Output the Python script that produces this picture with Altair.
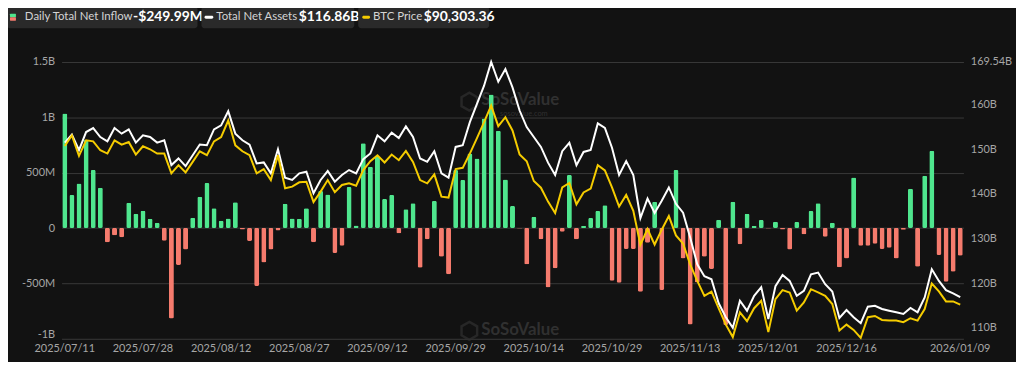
import altair as alt
import pandas as pd

# ---------------- data ----------------
holidays = {"2025-09-01", "2025-11-27", "2025-12-25", "2026-01-01"}
dates = [d.strftime("%Y/%m/%d") for d in pd.bdate_range("2025-07-11", "2026-01-09")
         if d.strftime("%Y-%m-%d") not in holidays]

tick_dates = ["2025/07/11", "2025/07/28", "2025/08/12", "2025/08/27", "2025/09/12",
              "2025/09/29", "2025/10/14", "2025/10/29", "2025/11/13", "2025/12/01",
              "2025/12/16", "2026/01/09"]

# Daily total net inflow (US$ millions)
inflow_m = [1035, 298, 403, 795, 524, 364, -129, -66, -84, 229,
            129, 157, 84, 48, -114, -816, -334, -193, 93, 283,
            406, 178, 66, 87, 232, -12, -117, -524, -310, -193,
            -21, 220, 87, 84, 178, -129, 334, 304, -226, -160,
            370, 24, 765, 554, 644, 262, 298, -48, 169, 223,
            -358, -102, 244, -259, -418, 524, 433, 674, 629, 990,
            1207, 879, 439, 199, -5, -328, 102, -102, -536, -364,
            -33, 479, -102, 21, 90, 154, 205, -476, -494, -190,
            -190, -575, -132, 238, -560, 1, 524, -274, -870, -492,
            -259, -370, 75, -876, 238, -147, 129, 21, 72, -4,
            57, -12, -193, 54, -57, 153, 223, -78, 48, -355,
            -274, 457, -160, -160, -141, -190, -178, -274, -15, 355,
            -349, 473, 698, -244, -485, -394, -249.99]

# Total net assets (US$ billions)
assets_b = [151.49, 153.27, 149.78, 153.85, 154.74, 152.74, 151.78, 154.74, 153.49, 154.45,
            151.49, 153.12, 152.74, 151.49, 152.0, 146.45, 147.94, 146.23, 148.67, 151.05,
            150.89, 154.45, 155.34, 158.52, 153.49, 152.0, 151.05, 146.83, 147.05, 144.6,
            150.0, 143.63, 143.12, 144.6, 144.96, 140.16, 143.12, 145.12, 142.74, 144.23,
            145.34, 144.6, 147.78, 149.05, 153.12, 151.78, 153.72, 152.52, 155.12, 152.74,
            147.94, 147.18, 149.56, 144.6, 143.63, 150.52, 150.89, 156.07, 160.16, 164.23,
            169.54, 165.12, 167.94, 163.85, 158.67, 154.96, 152.74, 150.52, 147.0, 144.23,
            149.56, 151.45, 146.45, 149.4, 149.85, 155.78, 154.78, 150.34, 144.23, 147.34,
            144.23, 134.6, 138.94, 135.72, 138.45, 141.45, 137.78, 135.78, 130.23, 124.23,
            121.56, 120.89, 115.56, 112.45, 110.0, 116.07, 113.85, 117.18, 119.12, 112.0,
            119.34, 121.85, 120.52, 117.18, 118.29, 122.0, 122.38, 119.78, 118.16, 112.23,
            114.0, 112.38, 111.05, 114.74, 114.96, 114.23, 113.85, 113.49, 113.12, 114.45,
            113.49, 116.83, 123.12, 120.52, 118.45, 117.72, 116.86]

# BTC price (US$ thousands)
btc_k = [117.72, 119.56, 116.01, 118.70, 118.53, 116.99, 116.42, 118.70, 117.96, 118.41,
         116.25, 117.67, 117.16, 116.42, 116.42, 112.99, 114.42, 113.16, 114.98, 116.81,
         116.13, 118.53, 119.27, 122.13, 117.84, 116.81, 116.13, 112.99, 113.73, 111.84,
         116.13, 110.42, 110.70, 111.45, 111.55, 108.02, 109.84, 111.84, 109.74, 110.99,
         111.28, 110.87, 113.56, 115.10, 116.13, 114.88, 116.25, 115.27, 116.87, 114.98,
         111.84, 111.28, 112.82, 108.98, 108.81, 113.73, 113.95, 116.42, 119.09, 121.84,
         124.70, 121.15, 122.69, 120.41, 116.25, 115.10, 111.67, 110.52, 108.12, 106.14,
         110.56, 111.33, 107.64, 109.70, 110.35, 114.42, 113.51, 110.56, 107.27, 109.27,
         106.53, 100.65, 103.39, 100.70, 103.27, 105.62, 102.28, 100.87, 97.28, 94.41,
         91.84, 92.56, 89.73, 86.91, 84.71, 89.00, 87.47, 89.70, 90.98, 85.57,
         91.28, 92.82, 92.42, 89.27, 90.71, 92.99, 92.42, 91.84, 90.42, 85.84,
         86.87, 85.96, 84.59, 88.14, 88.36, 87.68, 87.56, 87.56, 87.28, 87.97,
         87.56, 89.56, 93.97, 92.60, 90.88, 90.88, 90.303]

legend_inflow = "-$249.99M"
legend_assets = "$116.86B"
legend_btc = "$90,303.36"

df = pd.DataFrame({"date": dates, "inflow": inflow_m, "assets": assets_b, "btc": btc_k})
one = pd.DataFrame({"k": [0]})

# ---------------- styles ----------------
BG = "#121212"
GREEN = "#4fe68e"
RED = "#f57b6d"
WHITE = "#ffffff"
YELLOW = "#f5cc00"
GRID = "#3a3a3a"
LABEL = "#a6a6a6"
BOX = "#2a2a2a"
WM = "#303030"
FONT = "Lato"

xenc = alt.X("date:O", title=None,
             scale=alt.Scale(paddingInner=0.3, paddingOuter=0.1),
             axis=alt.Axis(values=tick_dates, labelAngle=0, labelPadding=4, domain=False,
                           ticks=False, grid=False, labelFontSize=11, labelColor=LABEL,
                           labelFont=FONT, labelOverlap=False))

base = alt.Chart(df).encode(x=xenc)

bars = base.mark_bar(cornerRadius=1.5).encode(
    y=alt.Y("inflow:Q", title=None,
            scale=alt.Scale(domain=[-1000, 1500], nice=False),
            axis=alt.Axis(orient="left", values=[-1000, -500, 0, 500, 1000, 1500],
                          labelExpr="datum.value == 0 ? '0' : (abs(datum.value) >= 1000 ? (datum.value/1000) + 'B' : datum.value + 'M')",
                          labelBaseline={"condition": {"test": "datum.value == -1000", "value": "bottom"},
                                         "value": "middle"},
                          labelOffset={"condition": {"test": "datum.value == -1000", "value": 1},
                                       "value": 0},
                          grid=True, gridColor=GRID, gridWidth=1, domain=False, ticks=False,
                          labelPadding=7, labelFontSize=11, labelColor=LABEL, labelFont=FONT)),
    color=alt.condition("datum.inflow >= 0", alt.value(GREEN), alt.value(RED)),
)

white = base.mark_line(color=WHITE, strokeWidth=2).encode(
    y=alt.Y("assets:Q", title=None,
            scale=alt.Scale(domain=[107.56, 169.54], nice=False, zero=False),
            axis=alt.Axis(orient="right", values=[110, 120, 130, 140, 150, 160, 169.54],
                          labelExpr="datum.value + 'B'", grid=False, domain=False, ticks=False,
                          labelPadding=7, labelFontSize=11, labelColor=LABEL, labelFont=FONT)),
)

yellow = base.mark_line(color=YELLOW, strokeWidth=2).encode(
    y=alt.Y("btc:Q", scale=alt.Scale(domain=[84.42, 132.24], nice=False, zero=False), axis=None),
)


def rect(x1, x2, y1, y2, color, r=0):
    return alt.Chart(one).mark_rect(color=color, cornerRadius=r).encode(
        x=alt.value(x1), x2=alt.value(x2), y=alt.value(y1), y2=alt.value(y2))


def txt(s, x, y, size, color, weight="normal"):
    return alt.Chart(one).mark_text(text=s, align="left", baseline="middle", fontSize=size,
                                    color=color, fontWeight=weight, font=FONT).encode(
        x=alt.value(x), y=alt.value(y))


hexagon = "M0,-1L0.866,-0.5L0.866,0.5L0,1L-0.866,0.5L-0.866,-0.5Z"


def logo(x, y):
    return alt.Chart(one).mark_point(shape=hexagon, filled=False, stroke=WM, strokeWidth=2.5,
                                     size=330).encode(x=alt.value(x), y=alt.value(y))


watermark = [
    logo(411, 40), txt("SoSoValue", 423, 38, 17, WM, "bold"), txt("sosovalue.com", 442, 52, 7.5, WM),
    logo(411, 271), txt("SoSoValue", 423, 270, 17, WM, "bold"),
]

legend = [
    rect(-55, 137, -56, -34, BOX, 3),
    rect(-52, -46, -48.5, -45, GREEN, 0.5),
    rect(-52, -46, -45, -41.5, RED, 0.5),
    txt("Daily Total Net Inflow", -37, -45, 11.5, "#d4d4d4"),
    txt(legend_inflow, 72, -45, 14, WHITE, "bold"),
    rect(141, 295, -56, -34, BOX, 3),
    rect(144, 153, -46.5, -43.5, WHITE, 1.5),
    txt("Total Net Assets", 156, -45, 11.5, "#d4d4d4"),
    txt(legend_assets, 239, -45, 14, WHITE, "bold"),
    rect(299, 431, -56, -34, BOX, 3),
    rect(303, 311, -46.5, -43.5, YELLOW, 1.5),
    txt("BTC Price", 314, -45, 11.5, "#d4d4d4"),
    txt(legend_btc, 365, -45, 14, WHITE, "bold"),
]

chart = alt.layer(*watermark, bars, white, yellow, *legend).resolve_scale(
    y="independent"
).properties(
    width=909, height=279,
    padding={"left": 54, "top": 53, "right": 53, "bottom": 22},
    autosize=alt.AutoSizeParams(type="none"),
    background=BG,
).configure_view(stroke=None)

chart.save("out.html", embed_options={"renderer": "svg", "actions": False})
